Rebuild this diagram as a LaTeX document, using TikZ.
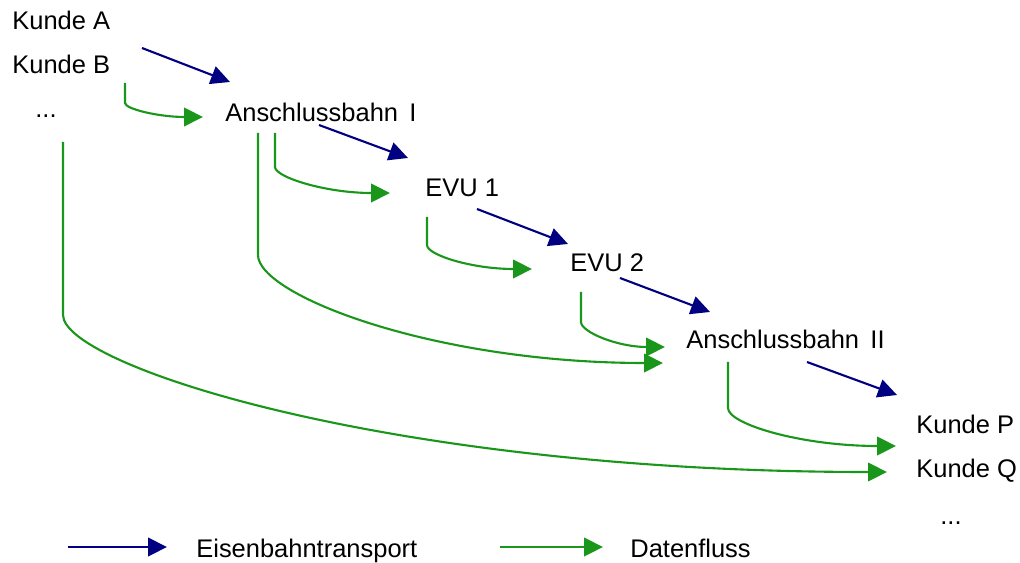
\documentclass[tikz,border=0pt]{standalone}
\usepackage{fontspec}
\usepackage{xcolor}
\setmainfont{Liberation Sans}
\usetikzlibrary{arrows.meta}
\usetikzlibrary{calc}
\definecolor{bahnblau}{RGB}{0,0,128}
\definecolor{flussgruen}{RGB}{26,150,26}

\begin{document}
\begin{tikzpicture}[x={(0.02cm,0)},y={(0,-0.02cm)},
    every node/.style={inner sep=0pt,anchor=base west,font=\fontsize{14.5}{17}\selectfont},
    bahn/.style={line width=1.2pt,bahnblau,-{Triangle[length=0.38cm,width=0.37cm]}},
    fluss/.style={line width=1.2pt,flussgruen,-{Triangle[length=0.38cm,width=0.37cm]}}]
    \useasboundingbox (0,0) rectangle (1020,563);

    \node (ka) at (12,30) {Kunde A};
    \node (kb) at (12,74) {Kunde B};
    \node (kd) at (35,118) {...};
    \node (ab1) at (225,122) {Anschlussbahn\, I};
    \node (evu1) at (425,197) {EVU 1};
    \node (evu2) at (570,272) {EVU 2};
    \node (ab2) at (686,349) {Anschlussbahn\, II};
    \node (kp) at (916,433) {Kunde P};
    \node (kq) at (916,477) {Kunde Q};
    \node (pd) at (940,524) {...};

    % Eisenbahntransport
    \draw[bahn] ([shift={(130,-26)}]kb.base west) -- ([shift={(5,-40)}]ab1.base west);
    \draw[bahn] ([shift={(94,3)}]ab1.base west) -- ([shift={(-17,-39)}]evu1.base west);
    \draw[bahn] ([shift={(52,12)}]evu1.base west) -- ([shift={(-2,-28)}]evu2.base west);
    \draw[bahn] ([shift={(50,6)}]evu2.base west) -- ([shift={(24,-37)}]ab2.base west);
    \draw[bahn] ([shift={(121,13)}]ab2.base west) -- ([shift={(-19,-38)}]kp.base west);

    % Datenfluss
    \draw[fluss] ([shift={(113,9)}]kb.base west) -- ++(0,20)
        to[out=-90,in=180,out distance=0.12cm,in distance=0.88cm] ([shift={(-22,-5)}]ab1.base west);
    \draw[fluss] ([shift={(50,11)}]ab1.base west) -- ++(0,34)
        to[out=-90,in=180,out distance=0.2cm,in distance=1.3cm] ([shift={(-35,-4)}]evu1.base west);
    \draw[fluss] ([shift={(2,20)}]evu1.base west) -- ++(0,28)
        to[out=-90,in=180,out distance=0.2cm,in distance=1.2cm] ([shift={(-38,-3)}]evu2.base west);
    \draw[fluss] ([shift={(11,20)}]evu2.base west) -- ++(0,30)
        to[out=-90,in=180,out distance=0.2cm,in distance=0.95cm] ([shift={(-21,-2)}]ab2.base west);
    \draw[fluss] ([shift={(42,13)}]ab2.base west) -- ++(0,46)
        to[out=-90,in=180,out distance=0.32cm,in distance=1.9cm] ([shift={(-20,13)}]kp.base west);
    \draw[fluss] ([shift={(33,11)}]ab1.base west) -- ++(0,122)
        to[out=-90,in=180,out distance=0.8cm,in distance=4.6cm] ([shift={(-23,14)}]ab2.base west);
    \draw[fluss] ([shift={(28,24)}]kd.base west) -- ++(0,173)
        to[out=-90,in=180,out distance=1cm,in distance=10cm] ([shift={(-29,-5)}]kq.base west);

    % Legende
    \node (leg1) at (196,557) {Eisenbahntransport};
    \node (leg2) at (630,557) {Datenfluss};
    \draw[bahn] ([shift={(-128,-10)}]leg1.base west) -- ([shift={(-29,-10)}]leg1.base west);
    \draw[fluss] ([shift={(-130,-10)}]leg2.base west) -- ([shift={(-27,-10)}]leg2.base west);
\end{tikzpicture}
\end{document}
